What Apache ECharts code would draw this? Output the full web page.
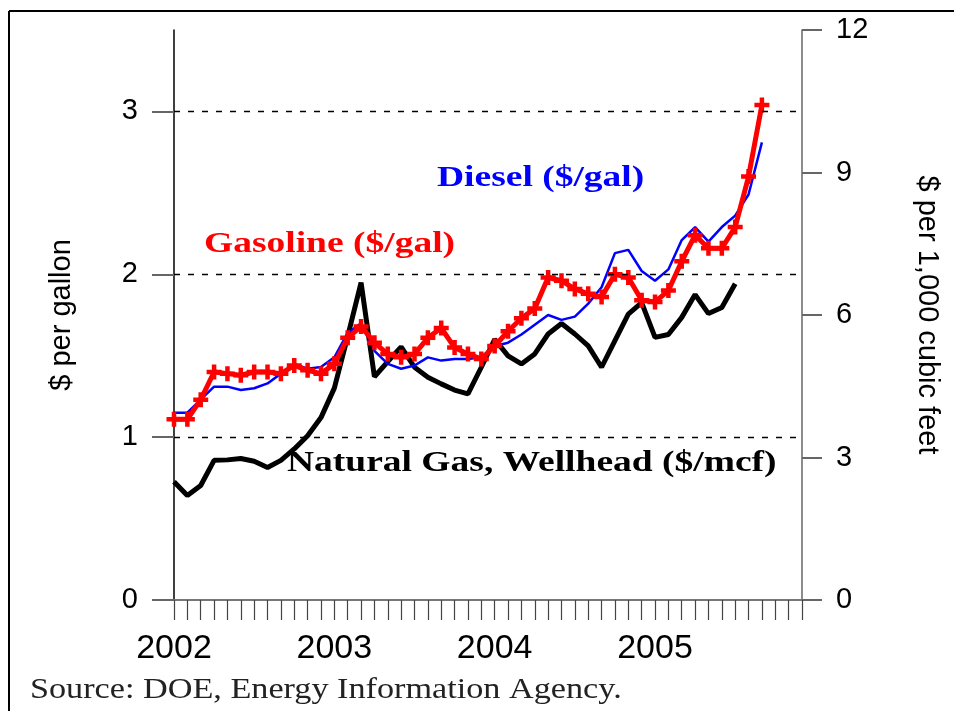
<!DOCTYPE html>
<html>
<head>
<meta charset="utf-8">
<script src="https://cdn.jsdelivr.net/npm/echarts@6/dist/echarts.min.js"></script>
<style>html,body{margin:0;padding:0;background:#fff;}#c{width:954px;height:711px;}</style>
</head>
<body>
<div id="c"></div>
<script>
// Months Jan 2002 .. Dec 2005
const months = [];
for (let y = 2002; y <= 2005; y++) for (let m = 1; m <= 12; m++) months.push(y + '-' + (m < 10 ? '0' + m : m));

const gasoline = [
  1.11, 1.11, 1.23, 1.40, 1.39, 1.38, 1.40, 1.40, 1.39, 1.44, 1.41, 1.39,
  1.45, 1.61, 1.68, 1.58, 1.51, 1.49, 1.51, 1.61, 1.67, 1.55, 1.51, 1.48,
  1.56, 1.65, 1.73, 1.79, 1.98, 1.96, 1.91, 1.88, 1.86, 2.00, 1.98, 1.84,
  1.83, 1.90, 2.08, 2.24, 2.16, 2.16, 2.29, 2.60, 3.04
];
const diesel = [
  1.15, 1.15, 1.23, 1.31, 1.31, 1.29, 1.30, 1.33, 1.39, 1.45, 1.42, 1.43,
  1.49, 1.64, 1.70, 1.53, 1.45, 1.42, 1.44, 1.49, 1.47, 1.48, 1.48, 1.49,
  1.56, 1.58, 1.63, 1.69, 1.75, 1.72, 1.74, 1.82, 1.92, 2.13, 2.15, 2.02,
  1.96, 2.03, 2.21, 2.29, 2.20, 2.29, 2.36, 2.49, 2.81
];
const natGas = [
  2.49, 2.20, 2.41, 2.94, 2.95, 2.98, 2.92, 2.79, 2.94, 3.18, 3.46, 3.84,
  4.46, 5.55, 6.68, 4.70, 5.02, 5.33, 4.90, 4.69, 4.55, 4.42, 4.34, 4.90,
  5.49, 5.14, 4.97, 5.18, 5.60, 5.82, 5.60, 5.35, 4.90, 5.46, 6.02, 6.26,
  5.53, 5.59, 5.95, 6.43, 6.03, 6.16, 6.66
];
const leftTicks = [0, 1, 2, 3];
const gridLines = [1, 2, 3];

const labels = {
  diesel: 'Diesel ($/gal)',
  gasoline: 'Gasoline ($/gal)',
  natGas: 'Natural Gas, Wellhead ($/mcf)',
  source: 'Source: DOE, Energy Information Agency.',
  left: '$ per gallon',
  right: '$ per 1,000 cubic feet'
};

const chart = echarts.init(document.getElementById('c'), null, {renderer: 'canvas'});
const plus = 'path://M3.5,0H6.5V3.5H10V6.5H6.5V10H3.5V6.5H0V3.5H3.5Z';
const sans = 'Liberation Sans, Arial, sans-serif';
const serif = 'Liberation Serif, Times New Roman, serif';

chart.setOption({
  animation: false,
  backgroundColor: '#fff',
  grid: {left: 174, right: 152, top: 30, bottom: 111, containLabel: false},
  xAxis: {
    type: 'category',
    data: months,
    boundaryGap: false,
    axisLine: {lineStyle: {color: '#777', width: 2}},
    axisTick: {show: true, interval: 0, length: 20, lineStyle: {color: '#444', width: 1.2}},
    axisLabel: {
      interval: function (i) { return i % 12 === 0; },
      formatter: function (v) { return v.slice(0, 4); },
      margin: 32, fontSize: 34, fontFamily: sans, color: '#000'
    },
    splitLine: {show: false}
  },
  yAxis: [
    {
      type: 'value', min: 0, max: 3.5, interval: 1, position: 'left',
      name: labels.left, nameLocation: 'middle', nameGap: 98, nameRotate: 90,
      nameTextStyle: {fontSize: 29, fontFamily: sans, color: '#000'},
      axisLine: {show: true, lineStyle: {color: '#000', width: 1.5}},
      axisTick: {show: true, length: 22, customValues: leftTicks, lineStyle: {color: '#666', width: 2}},
      axisLabel: {customValues: leftTicks, margin: 36, fontSize: 29, fontFamily: sans, color: '#000'},
      splitLine: {show: false}
    },
    {
      type: 'value', min: 0, max: 12, interval: 3, position: 'right',
      name: labels.right, nameLocation: 'middle', nameGap: 110, nameRotate: -90,
      nameTextStyle: {fontSize: 29, fontFamily: sans, color: '#000'},
      axisLine: {show: true, lineStyle: {color: '#666', width: 1.5}},
      axisTick: {show: true, length: 20, lineStyle: {color: '#666', width: 2}},
      axisLabel: {margin: 34, fontSize: 29, fontFamily: sans, color: '#000'},
      splitLine: {show: false}
    }
  ],
  series: [
    {
      name: 'Natural Gas', type: 'line', yAxisIndex: 1, data: natGas,
      showSymbol: false, symbol: 'none',
      lineStyle: {color: '#000', width: 5}, itemStyle: {color: '#000'},
      z: 2, emphasis: {disabled: true}
    },
    {
      name: 'Diesel', type: 'line', yAxisIndex: 0, data: diesel,
      showSymbol: false, symbol: 'none',
      lineStyle: {color: '#0000ff', width: 2.5}, itemStyle: {color: '#0000ff'},
      z: 3, emphasis: {disabled: true}
    },
    {
      name: 'Gasoline', type: 'line', yAxisIndex: 0, data: gasoline,
      showSymbol: true, showAllSymbol: true, symbol: plus, symbolSize: 15,
      lineStyle: {color: '#ff0000', width: 5}, itemStyle: {color: '#ff0000'},
      z: 4, emphasis: {disabled: true},
      markLine: {
        silent: true, symbol: 'none', label: {show: false},
        lineStyle: {color: '#000', type: [6, 8], width: 1.4},
        data: gridLines.map(function (v) { return {yAxis: v}; })
      }
    }
  ],
  graphic: [
    {type: 'line', shape: {x1: 9, y1: 11, x2: 954, y2: 11}, style: {stroke: '#000', lineWidth: 2}, silent: true},
    {type: 'line', shape: {x1: 9, y1: 11, x2: 9, y2: 711}, style: {stroke: '#000', lineWidth: 2}, silent: true},
    {type: 'text', x: 437, y: 178, scaleX: 1.25, silent: true, z: 100,
     style: {text: labels.diesel, font: 'bold 30px ' + serif, fill: '#0000ff', textVerticalAlign: 'middle', textAlign: 'left'}},
    {type: 'text', x: 204, y: 244, scaleX: 1.25, silent: true, z: 100,
     style: {text: labels.gasoline, font: 'bold 30px ' + serif, fill: '#ff0000', textVerticalAlign: 'middle', textAlign: 'left'}},
    {type: 'text', x: 287, y: 463, scaleX: 1.25, silent: true, z: 100,
     style: {text: labels.natGas, font: 'bold 30px ' + serif, fill: '#000', textVerticalAlign: 'middle', textAlign: 'left'}},
    {type: 'text', x: 30, y: 690, scaleX: 1.14, silent: true, z: 100,
     style: {text: labels.source, font: '30px ' + serif, fill: '#222', textVerticalAlign: 'middle', textAlign: 'left'}}
  ]
});
</script>
</body>
</html>
